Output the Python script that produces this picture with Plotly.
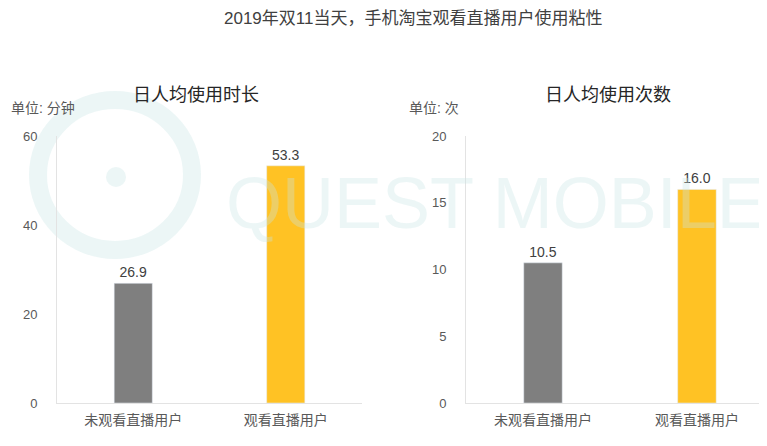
import plotly.graph_objects as go

categories = ["未观看直播用户", "观看直播用户"]
duration_values = [26.9, 53.3]
count_values = [10.5, 16.0]
bar_colors = ["#7f7f7f", "#ffc224"]
duration_ticks = [0, 20, 40, 60]
count_ticks = [0, 5, 10, 15, 20]

FONT = "Liberation Sans, Noto Sans CJK SC, sans-serif"
OFF = 8  # page body margin
W, H = 767 - OFF, 446 - OFF


def px(x):
    return (x - OFF) / W


def py(y):
    return 1 - (y - OFF) / H


fig = go.Figure()
fig.add_trace(go.Bar(x=categories, y=duration_values, marker_color=bar_colors,
                     text=[f"{v:.1f}" for v in duration_values], textposition="outside",
                     textfont=dict(size=14, color="#404040"), cliponaxis=False,
                     width=0.25, xaxis="x", yaxis="y", showlegend=False))
fig.add_trace(go.Bar(x=categories, y=count_values, marker_color=bar_colors,
                     text=[f"{v:.1f}" for v in count_values], textposition="outside",
                     textfont=dict(size=14, color="#404040"), cliponaxis=False,
                     width=0.25, xaxis="x2", yaxis="y2", showlegend=False))

axis_common = dict(showgrid=False, zeroline=False, showline=True, linecolor="#e3e3e3",
                   linewidth=1, ticks="", automargin=False)
xfont = dict(size=14, color="#595959")
yfont = dict(size=13, color="#595959")
fig.update_layout(
    width=W, height=H,
    margin=dict(l=0, r=0, t=0, b=0),
    paper_bgcolor="white", plot_bgcolor="rgba(0,0,0,0)",
    font=dict(family=FONT),
    xaxis=dict(domain=[px(57), px(362)], range=[-0.5, 1.5], anchor="y",
               ticklabelstandoff=4, tickfont=xfont, **axis_common),
    yaxis=dict(domain=[py(403), py(136)], range=[0, 60], tickvals=duration_ticks,
               anchor="x", ticklabelstandoff=16, tickfont=yfont, **axis_common),
    xaxis2=dict(domain=[px(466), 1.0], range=[-0.5, 1.455], anchor="y2",
                ticklabelstandoff=4, tickfont=xfont, **axis_common),
    yaxis2=dict(domain=[py(403), py(136)], range=[0, 20], tickvals=count_ticks,
                anchor="x2", ticklabelstandoff=16, tickfont=yfont, **axis_common),
    bargap=0.75,
)

# faint watermark
wm = "rgba(200,228,228,0.35)"
fig.add_annotation(text="QUEST MOBILE", x=1.0, y=py(203), xref="paper", yref="paper",
                   xanchor="right", yanchor="middle", showarrow=False,
                   font=dict(size=72, color=wm, family="Liberation Sans"))
fig.add_shape(type="circle", xref="paper", yref="paper", x0=px(38), x1=px(192),
              y0=py(250), y1=py(100), line=dict(color=wm, width=18), layer="below")
fig.add_shape(type="circle", xref="paper", yref="paper", x0=px(106), x1=px(126),
              y0=py(187), y1=py(167), line=dict(width=0), fillcolor=wm, layer="below")

fig.add_annotation(text="2019年双11当天，手机淘宝观看直播用户使用粘性", x=px(413), y=py(18),
                   xref="paper", yref="paper", xanchor="center", yanchor="middle",
                   showarrow=False, font=dict(size=17, color="#404040"))
fig.add_annotation(text="日人均使用时长", x=px(196), y=py(95), xref="paper", yref="paper",
                   xanchor="center", yanchor="middle",
                   showarrow=False, font=dict(size=18, color="#262626"))
fig.add_annotation(text="日人均使用次数", x=px(608), y=py(95), xref="paper", yref="paper",
                   xanchor="center", yanchor="middle",
                   showarrow=False, font=dict(size=18, color="#262626"))
fig.add_annotation(text="单位: 分钟", x=px(9), y=py(108), xref="paper", yref="paper",
                   xanchor="left", yanchor="middle",
                   showarrow=False, font=dict(size=14, color="#595959"))
fig.add_annotation(text="单位: 次", x=px(407), y=py(108), xref="paper", yref="paper",
                   xanchor="left", yanchor="middle",
                   showarrow=False, font=dict(size=14, color="#595959"))

fig.write_html("out.html")
